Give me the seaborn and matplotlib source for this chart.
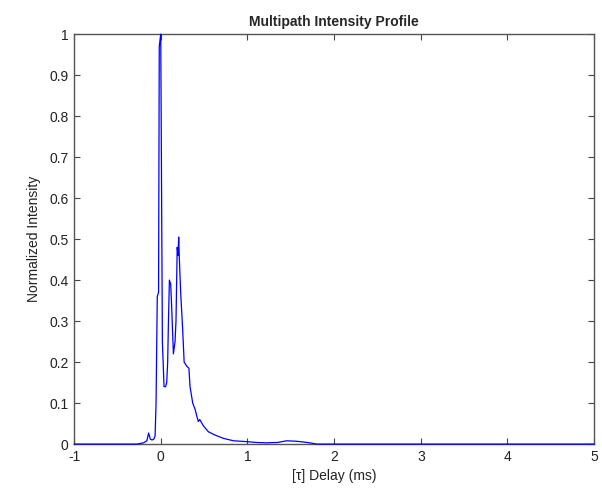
import matplotlib
matplotlib.use("Agg")
import matplotlib.pyplot as plt
import seaborn as sns
import pandas as pd

delay_ms = [-1.0, -0.27, -0.2, -0.16, -0.14, -0.12, -0.1, -0.08, -0.065, -0.054, -0.04,
            -0.025, -0.017, -0.006, 0.0, 0.007, 0.019, 0.038, 0.055, 0.069, 0.08, 0.088,
            0.1, 0.115, 0.127, 0.146, 0.165, 0.176, 0.19, 0.2, 0.207, 0.215, 0.23,
            0.254, 0.27, 0.3, 0.325, 0.338, 0.369, 0.396, 0.42, 0.434, 0.45, 0.49,
            0.55, 0.626, 0.722, 0.84, 0.99, 1.1, 1.22, 1.35, 1.45, 1.56, 1.65, 1.72,
            1.8, 5.0]
intensity = [0.0, 0.0, 0.003, 0.008, 0.027, 0.012, 0.01, 0.012, 0.02, 0.1, 0.36,
             0.37, 0.97, 0.99, 1.0, 0.725, 0.25, 0.14, 0.14, 0.15, 0.2, 0.29,
             0.40, 0.39, 0.33, 0.22, 0.25, 0.30, 0.48, 0.46, 0.505, 0.45, 0.37,
             0.275, 0.20, 0.19, 0.185, 0.14, 0.10, 0.085, 0.065, 0.055, 0.06, 0.045,
             0.03, 0.022, 0.014, 0.008, 0.006, 0.004, 0.003, 0.004, 0.008, 0.007, 0.005, 0.003,
             0.0, 0.0]

x_ticks = [-1, 0, 1, 2, 3, 4, 5]
y_ticks = [0, 0.1, 0.2, 0.3, 0.4, 0.5, 0.6, 0.7, 0.8, 0.9, 1]
y_tick_labels = ["0", "0.1", "0.2", "0.3", "0.4", "0.5", "0.6", "0.7", "0.8", "0.9", "1"]

sns.set_style("ticks")
plt.rcParams["font.family"] = ["Liberation Sans", "DejaVu Sans"]

fig = plt.figure(figsize=(6.02, 4.88), dpi=100)
ax = fig.add_axes([0.123, 0.090, 0.864, 0.840])

df = pd.DataFrame({"delay": delay_ms, "intensity": intensity})
sns.lineplot(data=df, x="delay", y="intensity", ax=ax, color="#0000ff",
             linewidth=0.9, estimator=None, sort=False, clip_on=False, zorder=5)

ax.set_xlim(-1, 5)
ax.set_ylim(0, 1)
ax.set_xticks(x_ticks)
ax.set_xticklabels([str(t) for t in x_ticks])
ax.set_yticks(y_ticks)
ax.set_yticklabels(y_tick_labels)
ax.tick_params(direction="in", length=4, width=0.8, color="#444444",
               top=True, right=True, labelsize=10, labelcolor="#222222", pad=4)
for s in ax.spines.values():
    s.set_visible(True)
    s.set_color("#555555")
    s.set_linewidth(1.0)

ax.set_xlabel("[\u03c4] Delay (ms)", fontsize=10, color="#222222", labelpad=4)
ax.set_ylabel("Normalized Intensity", fontsize=10, color="#222222", labelpad=6)
ax.set_title("Multipath Intensity Profile", fontsize=10, fontweight="bold", pad=6)
ax.grid(False)

fig.savefig("out.png", dpi=100)
